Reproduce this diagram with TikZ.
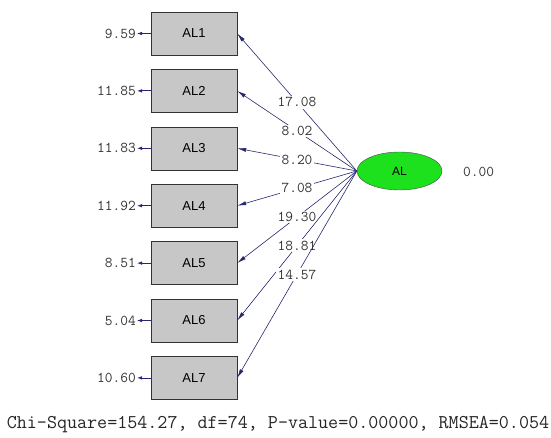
\documentclass[tikz,border=0pt]{standalone}
\usepackage{fontspec}
\newfontfamily\boxfont{Liberation Sans}
\usetikzlibrary{arrows.meta,shapes.geometric}
\definecolor{pathblue}{RGB}{40,40,110}
\definecolor{latgreen}{RGB}{30,225,30}

\begin{document}
\begin{tikzpicture}[
  x=1pt, y=-1pt,
  obs/.style={
    draw=black!80, fill=black!22,
    minimum width=86pt, minimum height=43pt,
    inner sep=0pt,
    font=\boxfont\fontsize{13}{13}\selectfont
  },
  lat/.style={
    ellipse, draw=black!70, fill=latgreen,
    minimum width=85pt, minimum height=38pt,
    inner sep=0pt, font=\boxfont\fontsize{12}{12}\selectfont
  },
  val/.style={font=\ttfamily\fontsize{15}{15}\selectfont, text=black!80, inner sep=1pt},
  tval/.style={val, fill=white, inner sep=1.5pt},
  load/.style={pathblue, line width=0.6pt, -{Latex[length=9pt,width=4pt]}},
  err/.style={pathblue, line width=0.8pt, -{Latex[length=5pt,width=3.5pt]}}
]
\useasboundingbox (0,0) rectangle (551,438);

% --- latent variable ---
\node[lat] (lv) at (399.5,171) {AL};
\node[val, anchor=west] (lvvar) at (462,172) {0.00};

% --- indicators, error variances and t-values ---
\foreach \t/\e [count=\i] in {17.08/9.59, 8.02/11.85, 8.20/11.83, 7.08/11.92,
                              19.30/8.51, 18.81/5.04, 14.57/10.60} {
  \node[obs] (x\i) at (194,{33.5+(\i-1)*57.4}) {AL\i};
  \node[val, anchor=east] (e\i) at (137,{33.5+(\i-1)*57.4}) {\e};
  \draw[err] (x\i.west) -- (e\i.east);
  \draw[load] (lv.west) -- node[tval] (t\i) {\t} (x\i.east);
}

% --- fit statistics ---
\node[font=\ttfamily\fontsize{19.5}{19.5}\selectfont, text=black!85] (fit) at (278,425)
  {Chi-Square=154.27, df=74, P-value=0.00000, RMSEA=0.054};
\end{tikzpicture}
\end{document}
